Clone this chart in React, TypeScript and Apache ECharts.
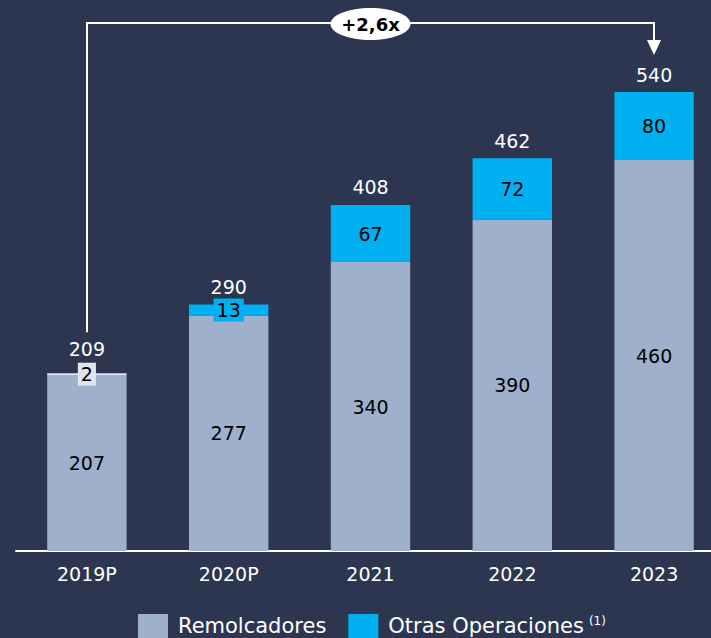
import React, { useEffect, useRef } from "react";
import * as echarts from "echarts";

const categories = ["2019P", "2020P", "2021", "2022", "2023"];
const remolcadores = [207, 277, 340, 390, 460];
const otras = [2, 13, 67, 72, 80];
const totals = [209, 290, 408, 462, 540];
const growthLabel = "+2,6x";

const BG = "#2c3651";
const LIGHT = "#9fb0cd";
const CYAN = "#00b0f0";
const FONT = "DejaVu Sans";

export default function App() {
  const ref = useRef<HTMLDivElement>(null);
  useEffect(() => {
    const chart = echarts.init(ref.current!, null, { renderer: "svg" });
    const smallIdx = (v: number) => v < 20;
    const option: any = {
      animation: false,
      backgroundColor: BG,
      grid: { left: 16, right: 0, top: 41, bottom: 87 },
      xAxis: {
        type: "category",
        data: categories,
        axisTick: { show: false },
        axisLine: { lineStyle: { color: "#ffffff", width: 2 } },
        axisLabel: { color: "#ffffff", fontSize: 19, fontFamily: FONT, margin: 13 },
      },
      yAxis: { type: "value", min: 0, max: 600, show: false, splitLine: { show: false } },
      legend: {
        bottom: -5,
        left: 133,
        itemWidth: 30,
        itemHeight: 24,
        itemGap: 22,
        icon: "rect",
        textStyle: {
          color: "#ffffff",
          fontSize: 21,
          fontFamily: FONT,
          padding: [0, 0, 0, 5],
          rich: { sup: { fontSize: 12, color: "#ffffff", fontFamily: FONT, verticalAlign: "top", padding: [0, 0, 10, 5] } },
        },
        formatter: (name: string) => (name === "Otras Operaciones" ? name + "{sup|(1)}" : name),
        data: ["Remolcadores", "Otras Operaciones"],
      },
      series: [
        {
          name: "Remolcadores",
          type: "bar",
          stack: "t",
          barWidth: "56%",
          itemStyle: { color: LIGHT },
          label: { show: true, position: "inside", color: "#000000", fontSize: 19, fontFamily: FONT },
          data: remolcadores,
        },
        {
          name: "Otras Operaciones",
          type: "bar",
          stack: "t",
          itemStyle: { color: CYAN },
          label: { show: true, position: "inside", color: "#000000", fontSize: 19, fontFamily: FONT },
          data: otras.map((v, i) =>
            smallIdx(v)
              ? {
                  value: v,
                  itemStyle: i === 0 ? { color: "#dfe5ef" } : undefined,
                  label: {
                    backgroundColor: i === 0 ? "#dfe5ef" : CYAN,
                    padding: [1, 3, 0, 3],
                    lineHeight: 22,
                  },
                }
              : v
          ),
        },
        {
          name: "Total",
          type: "scatter",
          symbolSize: 1,
          itemStyle: { color: "rgba(0,0,0,0)", opacity: 1 },
          label: { show: true, position: "top", distance: 7, color: "#ffffff", opacity: 1, fontSize: 19, fontFamily: FONT },
          data: totals.map((v, i) =>
            i === 0 ? { value: v, label: { distance: 14 } } : i === 1 ? { value: v, label: { distance: 8 } } : v
          ),
          z: 5,
        },
      ],
    };
    chart.setOption(option);

    const p0 = chart.convertToPixel({ xAxisIndex: 0, yAxisIndex: 0 }, [0, totals[0]]) as number[];
    const p4 = chart.convertToPixel({ xAxisIndex: 0, yAxisIndex: 0 }, [categories.length - 1, totals[totals.length - 1]]) as number[];
    const topY = 23;
    const x0 = Math.round(p0[0]);
    const x4 = Math.round(p4[0]);
    const lineBottom = p0[1] - 41;
    const arrowTip = p4[1] - 37;
    const midX = (x0 + x4) / 2;
    chart.setOption({
      graphic: [
        {
          type: "polyline",
          shape: { points: [[x0, lineBottom], [x0, topY], [x4, topY], [x4, arrowTip - 14]] },
          style: { stroke: "#ffffff", lineWidth: 2, fill: null },
          z: 10,
        },
        {
          type: "polygon",
          shape: { points: [[x4 - 7, arrowTip - 15], [x4 + 7, arrowTip - 15], [x4, arrowTip]] },
          style: { fill: "#ffffff" },
          z: 10,
        },
        {
          type: "ellipse",
          shape: { cx: midX, cy: topY + 1, rx: 40, ry: 16 },
          style: { fill: "#ffffff" },
          z: 11,
        },
        {
          type: "text",
          x: midX,
          y: topY + 1,
          style: {
            text: growthLabel,
            fill: "#000000",
            font: `bold 18px ${FONT}`,
            align: "center",
            verticalAlign: "middle",
          },
          z: 12,
        },
      ],
    });
    return () => chart.dispose();
  }, []);
  return (
    <div
      ref={ref}
      style={{ position: "fixed", left: 0, top: 0, width: 725, height: 638 }}
    />
  );
}
